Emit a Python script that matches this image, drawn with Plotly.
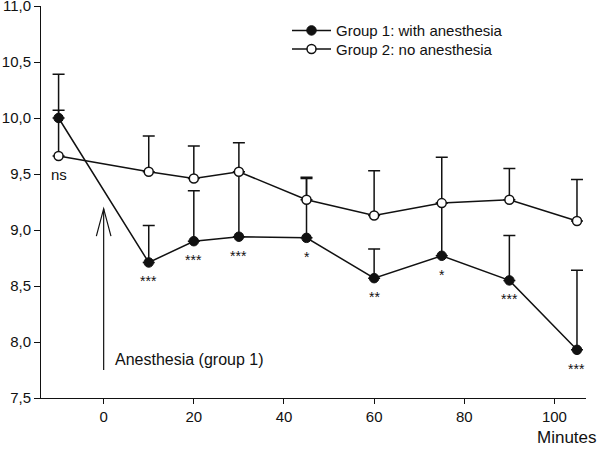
import plotly.graph_objects as go

minutes = [-10, 10, 20, 30, 45, 60, 75, 90, 105]
g1_mean = [10.00, 8.71, 8.90, 8.94, 8.93, 8.57, 8.77, 8.55, 7.93]
g1_sd = [0.39, 0.33, 0.45, 0.58, 0.53, 0.26, 0.47, 0.40, 0.71]
g2_mean = [9.66, 9.52, 9.46, 9.52, 9.27, 9.13, 9.24, 9.27, 9.08]
g2_sd = [0.41, 0.32, 0.29, 0.26, 0.20, 0.40, 0.41, 0.28, 0.37]
sig_labels = ["ns", "***", "***", "***", "*", "**", "*", "***", "***"]
x_ticks = [0, 20, 40, 60, 80, 100]
y_ticks = [7.5, 8.0, 8.5, 9.0, 9.5, 10.0, 10.5, 11.0]
arrow_x = 0
arrow_y = [7.75, 9.19]

INK = "#111111"
FONT = "Liberation Sans, Arial, sans-serif"

fig = go.Figure()
fig.add_trace(go.Scatter(
    x=minutes, y=g1_mean, mode="lines+markers", name="Group 1: with anesthesia",
    legend="legend",
    line=dict(color=INK, width=1.5),
    marker=dict(symbol="circle", size=9.5, color=INK, line=dict(color=INK, width=1)),
    error_y=dict(type="data", array=g1_sd, arrayminus=[0] * len(g1_sd), symmetric=False,
                 color=INK, thickness=1.5, width=6),
))
fig.add_trace(go.Scatter(
    x=minutes, y=g2_mean, mode="lines+markers", name="Group 2: no anesthesia",
    legend="legend2",
    line=dict(color=INK, width=1.5),
    marker=dict(symbol="circle", size=9, color="white", line=dict(color=INK, width=1.5)),
    error_y=dict(type="data", array=g2_sd, arrayminus=[0] * len(g2_sd), symmetric=False,
                 color=INK, thickness=1.5, width=6),
))

annotations = []
for i, (xv, lab) in enumerate(zip(minutes, sig_labels)):
    if lab == "ns":
        annotations.append(dict(x=xv, y=g2_mean[i], text=lab, showarrow=False,
                                yshift=-18, font=dict(size=15, color=INK, family=FONT)))
    else:
        annotations.append(dict(x=xv, y=g1_mean[i], text=lab, showarrow=False,
                                yshift=-19, font=dict(size=14, color=INK, family=FONT)))

annotations.append(dict(x=2.15, y=7.845, text="Anesthesia (group 1)", showarrow=False,
                        xanchor="left", yanchor="middle",
                        font=dict(size=16, color=INK, family=FONT)))
annotations.append(dict(x=1.024, y=-0.101, xref="paper", yref="paper", text="Minutes",
                        showarrow=False, xanchor="right", yanchor="middle",
                        font=dict(size=17, color=INK, family=FONT)))

shapes = [
    dict(type="line", x0=arrow_x, x1=arrow_x, y0=arrow_y[0], y1=arrow_y[1],
         line=dict(color=INK, width=1.2)),
    dict(type="path",
         path=f"M {arrow_x - 1.62},{arrow_y[1] - 0.245} L {arrow_x},{arrow_y[1]} L {arrow_x + 1.62},{arrow_y[1] - 0.245}",
         line=dict(color=INK, width=1.2)),
]

legend_common = dict(xanchor="left", yanchor="middle", bgcolor="rgba(0,0,0,0)",
                     borderwidth=0, font=dict(size=15, color=INK, family=FONT),
                     itemwidth=39)

fig.update_layout(
    width=600, height=450,
    margin=dict(l=41, r=14, t=6, b=52, autoexpand=False),
    paper_bgcolor="white", plot_bgcolor="white",
    separators=",.",
    font=dict(family=FONT, size=15, color=INK),
    showlegend=True,
    legend=dict(x=(287 - 41) / 545, y=(398.3 - 30.7) / 392.3, **legend_common),
    legend2=dict(x=(287 - 41) / 545, y=(398.3 - 49.3) / 392.3, **legend_common),
    annotations=annotations,
    shapes=shapes,
    xaxis=dict(range=[-13.9, 107], tickvals=x_ticks, ticks="outside", ticklen=5,
               tickwidth=1, tickcolor=INK, showline=True, linecolor=INK, linewidth=1,
               showgrid=False, zeroline=False, tickfont=dict(size=15),
               ticklabeloverflow="allow", automargin=False),
    yaxis=dict(range=[7.5, 11.0], tickvals=y_ticks, tickformat=".1f", ticks="outside",
               ticklen=6, tickwidth=1, tickcolor=INK, showline=True, linecolor=INK,
               linewidth=1, showgrid=False, zeroline=False, tickfont=dict(size=15),
               ticklabeloverflow="allow", automargin=False),
)

fig.write_html("out.html", config={"displayModeBar": False},
               post_script="document.body.style.margin='0';document.body.style.overflow='hidden';")
